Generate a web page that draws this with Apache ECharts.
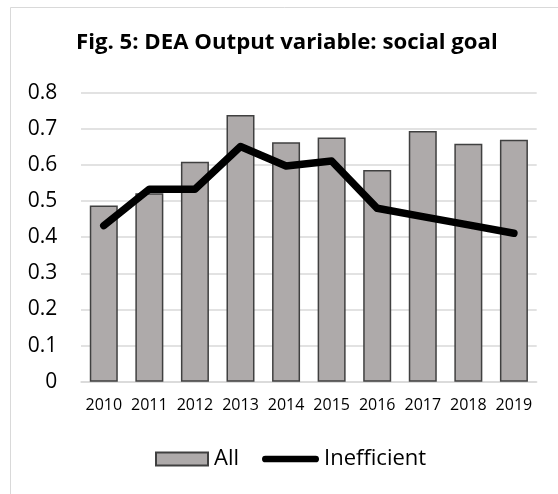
<!DOCTYPE html>
<html><head><meta charset="utf-8">
<script src="https://cdn.jsdelivr.net/npm/echarts@6/dist/echarts.min.js"></script>
<style>html,body{margin:0;padding:0;background:#fff}#c{width:558px;height:494px}</style>
</head><body><div id="c"></div>
<script>
const categories = ['2010','2011','2012','2013','2014','2015','2016','2017','2018','2019'];
const allValues = [0.488, 0.522, 0.609, 0.738, 0.663, 0.676, 0.586, 0.694, 0.659, 0.670];
const inefficientValues = [0.432, 0.533, 0.533, 0.651, 0.597, 0.611, 0.480, 0.457, 0.434, 0.411];
const yTicks = [0, 0.1, 0.2, 0.3, 0.4, 0.5, 0.6, 0.7, 0.8];
const FONT = 'Open Sans';
const barIcon = 'path://M0,0 M2.5,0 L54.5,0 L54.5,13 L2.5,13 Z M57,13';
const lineIcon = 'path://M0,0 M3.35,3.15 L53.65,3.15 A3.35,3.35 0 0 1 53.65,9.85 L3.35,9.85 A3.35,3.35 0 0 1 3.35,3.15 Z M57,13';
const chart = echarts.init(document.getElementById('c'), null, {renderer: 'canvas'});
chart.setOption({
  animation: false,
  backgroundColor: '#fff',
  graphic: [{type: 'rect', shape: {x: 10.5, y: 7.5, width: 600, height: 600}, style: {fill: 'none', stroke: '#d9d9d9', lineWidth: 1}, silent: true, z: -1}],
  title: {text: 'Fig. 5: DEA Output variable: social goal', left: 76, top: 31.5, padding: 0,
    textStyle: {fontFamily: FONT, fontWeight: 'bold', fontSize: 22.2, color: '#000'}},
  grid: {left: 81, right: 21.3, top: 92.7, bottom: 112.3},
  legend: {top: 448, left: 152.5, padding: 0, itemGap: 23, itemWidth: 57, itemHeight: 13,
    textStyle: {fontFamily: FONT, fontSize: 22, color: '#000'},
    data: [{name: 'All', icon: barIcon, textStyle: {padding: [0,0,0,-1.5]}},
           {name: 'Inefficient', icon: lineIcon}]},
  xAxis: {type: 'category', data: categories,
    axisLine: {lineStyle: {color: '#d9d9d9', width: 1.5}}, axisTick: {show: false},
    axisLabel: {interval: 0, hideOverlap: false, fontFamily: FONT, fontSize: 16, color: '#000', margin: 16}},
  yAxis: {type: 'value', min: 0, max: 0.8, interval: 0.1,
    axisLine: {show: false}, axisTick: {show: false},
    splitLine: {lineStyle: {color: '#d9d9d9', width: 1.5}},
    axisLabel: {fontFamily: FONT, fontSize: 21, color: '#000', margin: 23.7,
      formatter: v => { const t = yTicks.find(x => Math.abs(x - v) < 1e-9); return t === 0 ? '0' : String(+t.toFixed(1)); }}},
  series: [
    {name: 'All', type: 'bar', data: allValues, barWidth: 28,
      itemStyle: {color: '#aeaaaa', borderColor: '#404040', borderWidth: 1.5}},
    {name: 'Inefficient', type: 'line', data: inefficientValues, showSymbol: false, symbol: 'none',
      lineStyle: {color: '#000', width: 7.5, cap: 'round', join: 'round'}, itemStyle: {color: '#000'}}
  ]
});
</script></body></html>
